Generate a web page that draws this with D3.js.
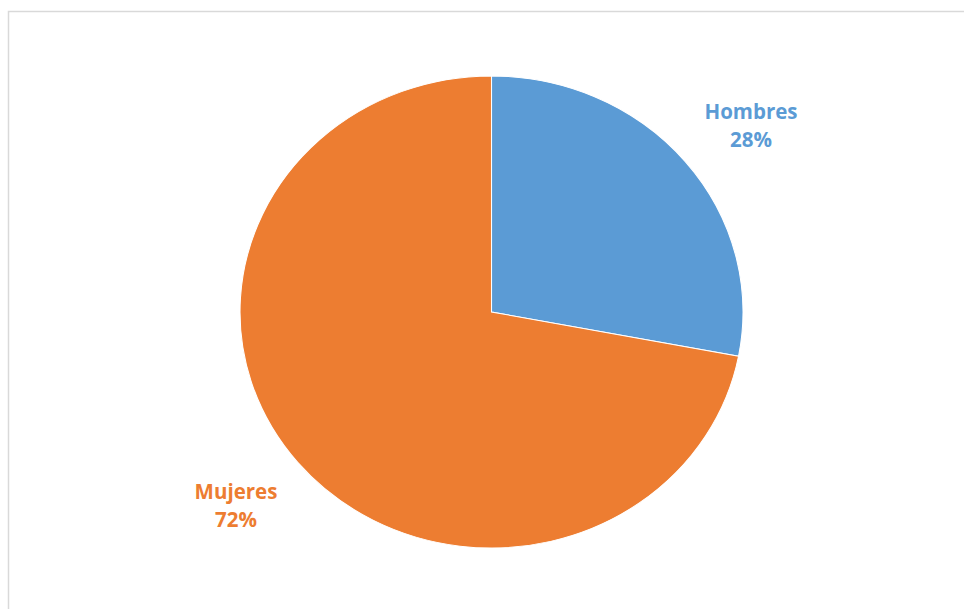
<!DOCTYPE html>
<html>
<head>
<meta charset="utf-8">
<script src="https://cdn.jsdelivr.net/npm/d3@7"></script>
<style>
html,body{margin:0;padding:0;background:#fff;}
svg{display:block;}
</style>
</head>
<body>
<svg id="chart" width="964" height="609"></svg>
<script>
const categories = ["Hombres", "Mujeres"];
const values = [28, 72];
const labels = ["28%", "72%"];
const colors = ["#5b9bd5", "#ed7d31"];

const svg = d3.select("#chart");
const W = 964, H = 609;

svg.append("rect").attr("x", 8.5).attr("y", 11.5).attr("width", W).attr("height", H)
  .attr("fill", "#fff").attr("stroke", "#d9d9d9").attr("stroke-width", 1.5);

const cx = 491.5, cy = 312, ry = 236, rx = 251.5;
const pie = d3.pie().sort(null).value(d => d.v);
const arcs = pie(categories.map((c, i) => ({c, v: values[i], l: labels[i], col: colors[i]})));
const arc = d3.arc().innerRadius(0).outerRadius(ry);

const g = svg.append("g").attr("transform", `translate(${cx},${cy}) scale(${rx/ry},1)`);
g.selectAll("path").data(arcs).enter().append("path")
  .attr("d", arc).attr("fill", d => d.data.col)
  .attr("stroke", "#fff").attr("stroke-width", 1);

const labelPos = [[751, 119], [236, 499]];
const lg = svg.append("g");
arcs.forEach((a, i) => {
  const t = lg.append("text").attr("x", labelPos[i][0]).attr("y", labelPos[i][1])
    .attr("text-anchor", "middle").attr("fill", a.data.col)
    .attr("font-family", "'Open Sans', sans-serif").attr("font-weight", "bold")
    .attr("font-size", 20.5);
  t.append("tspan").attr("x", labelPos[i][0]).text(a.data.c);
  t.append("tspan").attr("x", labelPos[i][0]).attr("dy", 28).text(a.data.l);
});
</script>
</body>
</html>
